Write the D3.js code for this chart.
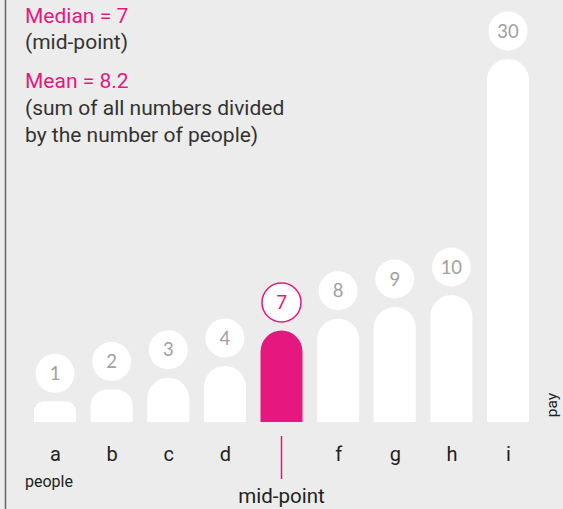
<!DOCTYPE html>
<html>
<head>
<meta charset="utf-8">
<script src="https://cdn.jsdelivr.net/npm/d3@7"></script>
<style>
  html, body { margin: 0; padding: 0; background: #ececec; }
  svg { display: block; font-family: Roboto, "Noto Sans", sans-serif; }
</style>
</head>
<body>
<div id="root"></div>
<script>
const width = 563;
const height = 509;
const pink = "#e5187f";

const people = ["a", "b", "c", "d", "e", "f", "g", "h", "i"];
const pay = [1, 2, 3, 4, 7, 8, 9, 10, 30];
const medianIndex = 4;
const notes = [
  ["Median = 7", true],
  ["(mid-point)", false],
  ["Mean = 8.2", true],
  ["(sum of all numbers divided", false],
  ["by the number of people)", false]
];
const noteY = [23, 49, 88, 115, 142];

const barWidth = 42;
const baseline = 422;

let svg = d3
  .select("#root")
  .append("svg")
  .attr("width", width)
  .attr("height", height);

svg
  .append("rect")
  .attr("width", width)
  .attr("height", height)
  .attr("fill", "#ececec");

// left edge rule
svg
  .append("line")
  .attr("x1", 5.5)
  .attr("x2", 5.5)
  .attr("y1", 0)
  .attr("y2", height)
  .attr("stroke", "#666")
  .attr("stroke-width", 1.5);

let xScale = d3.scalePoint().domain(people).range([55, 508]);
let yScale = d3.scaleLinear().domain([-0.75, 30]).range([baseline, 59]);

// bar with rounded top
function barPath(cx, top) {
  let h = baseline - top;
  let w = barWidth / 2;
  let r = Math.min(w, h / 2);
  let x0 = cx - w;
  let x1 = cx + w;
  return (
    "M" + x0 + "," + baseline +
    "L" + x0 + "," + (top + r) +
    "A" + r + "," + r + " 0 0 1 " + (x0 + r) + "," + top +
    "L" + (x1 - r) + "," + top +
    "A" + r + "," + r + " 0 0 1 " + x1 + "," + (top + r) +
    "L" + x1 + "," + baseline + "Z"
  );
}

svg
  .selectAll("path.bar")
  .data(pay)
  .enter()
  .append("path")
  .attr("class", "bar")
  .attr("d", (d, i) => barPath(xScale(people[i]), yScale(d)))
  .attr("fill", (d, i) => (i === medianIndex ? pink : "#fff"));

let bubbles = svg
  .selectAll("g.bubble")
  .data(pay)
  .enter()
  .append("g")
  .attr("class", "bubble")
  .attr("transform", (d, i) => "translate(" + xScale(people[i]) + "," + (yScale(d) - 28) + ")");

bubbles
  .append("circle")
  .attr("r", 19.5)
  .attr("fill", "#fff")
  .attr("stroke", (d, i) => (i === medianIndex ? pink : "none"))
  .attr("stroke-width", 1.5);

bubbles
  .append("text")
  .attr("text-anchor", "middle")
  .attr("dy", "0.36em")
  .style("font-family", "Lato, 'Open Sans', sans-serif")
  .style("font-size", "18.5px")
  .attr("fill", (d, i) => (i === medianIndex ? pink : "#a0a0a0"))
  .text((d) => d);

let xAxis = d3
  .axisBottom(xScale)
  .tickSize(0)
  .tickPadding(0)
  .tickFormat((d, i) => (i === medianIndex ? "" : d));

let gx = svg
  .append("g")
  .attr("transform", "translate(0, 461)")
  .call(xAxis);
gx.select(".domain").remove();
gx.selectAll("text")
  .attr("dy", 0)
  .attr("y", 0)
  .style("font-family", "Roboto, sans-serif")
  .style("font-size", "20px")
  .attr("fill", "#222");

// mid-point marker
svg
  .append("line")
  .attr("x1", xScale(people[medianIndex]))
  .attr("x2", xScale(people[medianIndex]))
  .attr("y1", 436)
  .attr("y2", 479)
  .attr("stroke", pink)
  .attr("stroke-width", 1.5);

svg
  .append("text")
  .attr("x", xScale(people[medianIndex]))
  .attr("y", 503)
  .attr("text-anchor", "middle")
  .style("font-size", "20.5px")
  .attr("fill", "#222")
  .text("mid-point");

svg
  .append("text")
  .attr("x", 25)
  .attr("y", 487)
  .style("font-size", "16px")
  .attr("fill", "#222")
  .text("people");

svg
  .append("text")
  .attr("transform", "translate(557, 405) rotate(-90)")
  .attr("text-anchor", "middle")
  .style("font-size", "15.5px")
  .attr("fill", "#222")
  .text("pay");

svg
  .selectAll("text.note")
  .data(notes)
  .enter()
  .append("text")
  .attr("class", "note")
  .attr("x", 25)
  .attr("y", (d, i) => noteY[i])
  .style("font-size", "21px")
  .attr("fill", (d) => (d[1] ? pink : "#333"))
  .text((d) => d[0]);
</script>
</body>
</html>
